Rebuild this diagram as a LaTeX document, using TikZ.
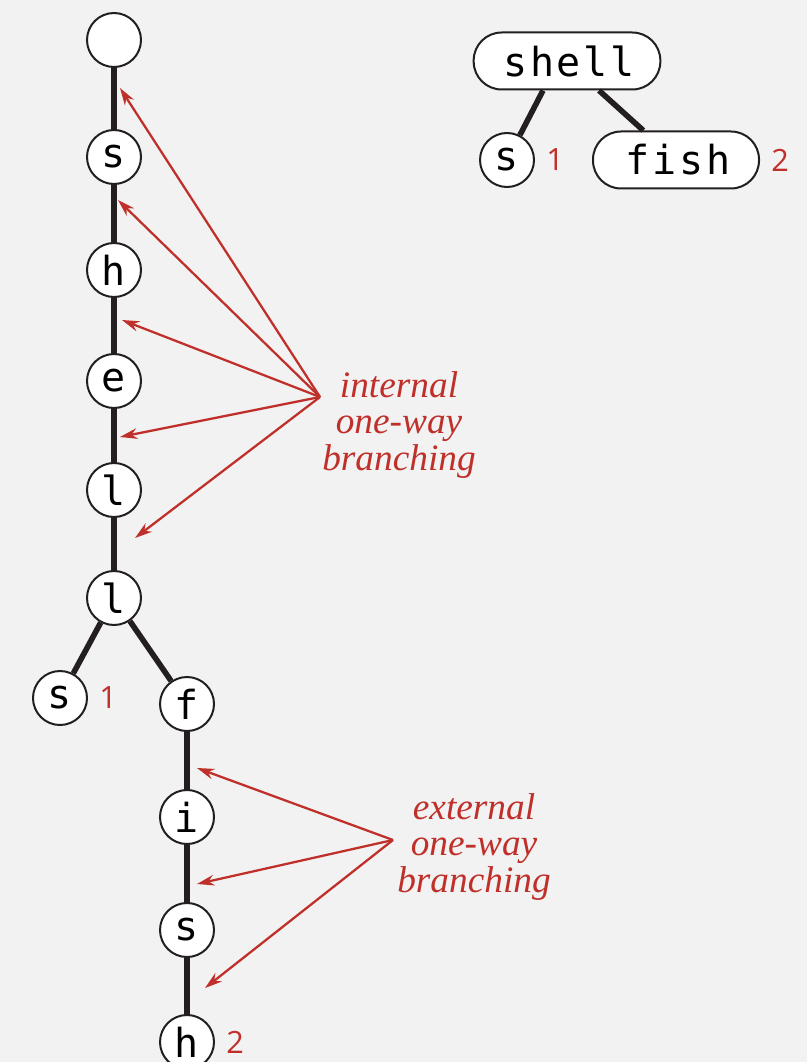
\documentclass[tikz,border=0pt]{standalone}
\usepackage{fontspec}
\newfontfamily\triefont{DejaVu Sans Mono}
\newfontfamily\pillfont[LetterSpace=7]{DejaVu Sans Mono}
\newfontfamily\numfont{Open Sans}
\newfontfamily\notefont{Liberation Serif}
\usetikzlibrary{arrows.meta}
\definecolor{bg}{HTML}{F2F2F2}
\definecolor{ink}{HTML}{231F20}
\definecolor{redarrow}{HTML}{C0302A}

\begin{document}
\begin{tikzpicture}[x=0.75pt,y=-0.75pt,
    trie/.style={circle,draw=ink,line width=1.5pt,fill=white,minimum size=40.5pt,inner sep=0pt,font=\triefont\fontsize{30}{30}\selectfont},
    pill/.style={rectangle,rounded corners=21pt,draw=ink,line width=1.5pt,fill=white,inner sep=0pt,minimum height=42.75pt,font=\pillfont\fontsize{30}{30}\selectfont},
    link/.style={line width=4.2pt,draw=ink},
    num/.style={text=redarrow,font=\numfont\fontsize{23}{23}\selectfont},
    note/.style={text=redarrow,font=\notefont\itshape\fontsize{28}{27.6}\selectfont,align=center},
    pointer/.style={draw=redarrow,line width=1.7pt,-{Stealth[length=13pt,width=8pt]}}]
  \fill[bg] (0,0) rectangle (807,1062);%背景
  \useasboundingbox (0,0) rectangle (807,1062);
  % trie
  \draw[link] (114,40)--(114,598);
  \draw[link] (187,704)--(187,1042);
  \node[trie] (root) at (114,40) {};
  \node[trie] (s1) at (114,157) {s};
  \node[trie] (h1) at (114,270) {h};
  \node[trie] (e1) at (114,381) {e};
  \node[trie] (l1) at (114,490) {l};
  \node[trie] (l2) at (114,598) {l};
  \node[trie,label={[num,label distance=5pt]right:1}] (s2) at (60,698) {s};
  \node[trie] (f1) at (187,704) {f};
  \node[trie] (i1) at (187,817) {i};
  \node[trie] (s3) at (187,930) {s};
  \node[trie,label={[num,label distance=5pt]right:2}] (h2) at (187,1042) {h};
  \draw[link] (l2)--(s2);
  \draw[link] (l2)--(f1);
  % 圧縮トライ
  \node[pill,minimum width=140pt] (shell) at (567,61) {\hspace*{3pt}shell};
  \node[trie,label={[num,label distance=5pt]right:1}] (s4) at (507,160) {s};
  \node[pill,minimum width=124.5pt,label={[num,label distance=5pt]right:2}] (fish) at (676,160) {\hspace*{3pt}fish};
  \draw[link] ([xshift=-18pt]shell.south)--(s4);
  \draw[link] ([xshift=24pt]shell.south)--(fish);
  % internal
  \node[note] (intnote) at (399,425) {internal\\one-way\\branching};
  \coordinate (intsrc) at (320,397);
  \coordinate (int1) at (120,88);
  \coordinate (int2) at (118,200);
  \coordinate (int3) at (122,320);
  \coordinate (int4) at (120,437);
  \coordinate (int5) at (135,538);
  \foreach \t in {int1,int2,int3,int4,int5}
    \draw[pointer] (intsrc)--(\t);
  % external
  \node[note] (extnote) at (474,847) {external\\one-way\\branching};
  \coordinate (extsrc) at (393,840);
  \coordinate (ext1) at (197,768);
  \coordinate (ext2) at (197,884);
  \coordinate (ext3) at (205,988);
  \foreach \t in {ext1,ext2,ext3}
    \draw[pointer] (extsrc)--(\t);
\end{tikzpicture}
\end{document}
